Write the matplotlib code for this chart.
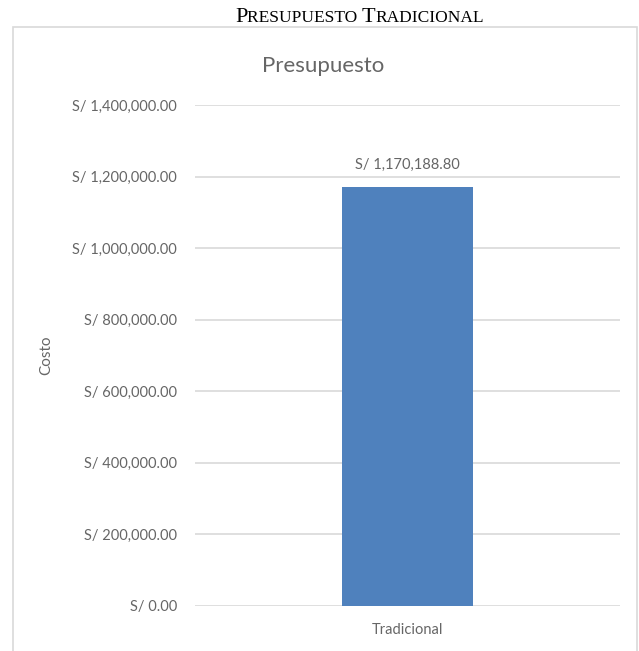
import matplotlib.pyplot as plt
from matplotlib.patches import Rectangle
from matplotlib.ticker import FuncFormatter, MultipleLocator

# data
categories = ['Tradicional']
costs = [1170188.80]

caption_parts = [('P', 16), ('RESUPUESTO ', 12.5), ('T', 16), ('RADICIONAL', 12.5)]

gray = '#666666'
plt.rcParams['font.family'] = ['Lato', 'DejaVu Sans']

fig = plt.figure(figsize=(6.39, 6.51), dpi=100)

# chart frame (bottom edge falls outside the image)
fig.patches.append(Rectangle((13 / 639, -0.05), (637 - 13) / 639, 1 - 27 / 651 + 0.05,
                             transform=fig.transFigure, fill=False,
                             edgecolor='#d9d9d9', linewidth=1.2))

ax = fig.add_axes([195 / 639, 1 - 606 / 651, (620 - 195) / 639, (606 - 105) / 651])

ax.bar(range(len(categories)), costs, width=0.31, color='#4F81BD', zorder=3)
ax.set_xlim(-0.5, len(categories) - 0.5)
ax.set_ylim(0, 1400000)
ax.yaxis.set_major_locator(MultipleLocator(200000))
ax.yaxis.set_major_formatter(FuncFormatter(lambda v, p: f'S/ {v:,.2f}'))
ax.set_xticks(range(len(categories)))
ax.set_xticklabels(categories)
ax.grid(axis='y', color='#d9d9d9', linewidth=1.2, zorder=0)
for s in ax.spines.values():
    s.set_visible(False)
ax.tick_params(axis='both', length=0, colors=gray, labelsize=10.5)
ax.tick_params(axis='y', pad=13)
ax.tick_params(axis='x', pad=12)

for i, c in enumerate(costs):
    ax.annotate(f'S/ {c:,.2f}', (i, c), xytext=(0, 22), textcoords='offset pixels',
                ha='center', va='center', fontsize=10.5, color=gray)

ax.set_ylabel('Costo', fontsize=11, color=gray, labelpad=0)
ax.yaxis.set_label_coords(-(195 - 53) / 425, 0.5)

fig.text(323 / 639, 1 - 66 / 651, 'Presupuesto', ha='center', va='center',
         fontsize=16, color=gray)

# small-caps caption built from pieces
fig.canvas.draw()
renderer = fig.canvas.get_renderer()
x = 235
for txt, size in caption_parts:
    t = fig.text(x / 639, 1 - 22 / 651, txt, ha='left', va='baseline',
                 fontsize=size, family='Liberation Serif', color='black')
    x += t.get_window_extent(renderer).width

fig.savefig('out.png', dpi=100)
